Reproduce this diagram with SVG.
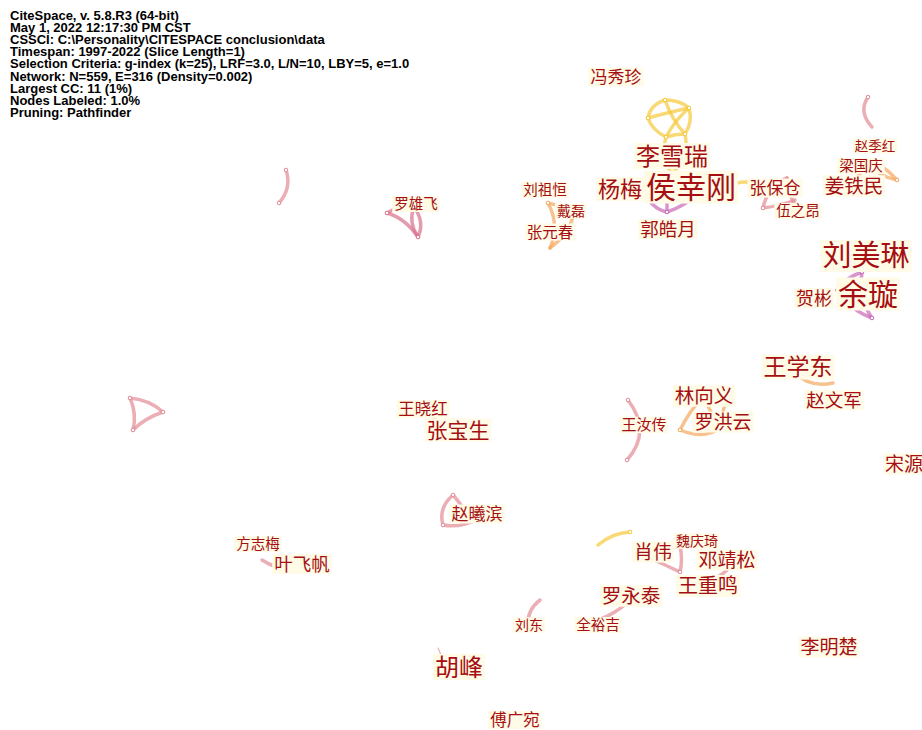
<svg xmlns="http://www.w3.org/2000/svg" width="922" height="730" viewBox="0 0 922 730">
<style>
.hdr{font-family:"Liberation Sans",Arial,sans-serif;font-weight:bold;font-size:13px;fill:#000}
.lb{font-family:"Noto Sans CJK SC","Noto Sans CJK TC",sans-serif;fill:#a50e12;text-anchor:middle}
.bg{fill:#fffbe6}
.e{fill:none;stroke-width:3.5;stroke-linecap:round;stroke-opacity:0.7}
.y{stroke:#f6c93a}
.o{stroke:#f3a860}
.p{stroke:#e38c96}
.m{stroke:#c968b6}
.r{stroke:#d9708c}
</style>
<rect width="922" height="730" fill="#fff"/>
<g id="header">
<text class="hdr" x="10" y="19.5">CiteSpace, v. 5.8.R3 (64-bit)</text>
<text class="hdr" x="10" y="31.7">May 1, 2022 12:17:30 PM CST</text>
<text class="hdr" x="10" y="43.9">CSSCI: C:\Personality\CITESPACE conclusion\data</text>
<text class="hdr" x="10" y="56.1">Timespan: 1997-2022 (Slice Length=1)</text>
<text class="hdr" x="10" y="68.3">Selection Criteria: g-index (k=25), LRF=3.0, L/N=10, LBY=5, e=1.0</text>
<text class="hdr" x="10" y="80.5">Network: N=559, E=316 (Density=0.002)</text>
<text class="hdr" x="10" y="92.7">Largest CC: 11 (1%)</text>
<text class="hdr" x="10" y="104.9">Nodes Labeled: 1.0%</text>
<text class="hdr" x="10" y="117.1">Pruning: Pathfinder</text>
</g>
<g id="connectors">
<path class="e y" d="M665 100 Q650 105 648 118"/>
<path class="e y" d="M665 100 Q680 100 689 108"/>
<path class="e y" d="M648 118 Q652 130 666 137"/>
<path class="e y" d="M648 118 Q670 112 689 108"/>
<path class="e y" d="M665 100 Q672 120 685 134"/>
<path class="e y" d="M689 108 Q675 120 666 137"/>
<path class="e y" d="M689 108 Q693 122 685 134"/>
<path class="e y" d="M666 137 Q675 134 685 134"/>
<path class="e y" d="M666 137 Q660 160 672 173"/>
<path class="e y" d="M685 134 Q690 158 672 173"/>
<path class="e m" d="M672 176 Q655 180 645 191"/>
<path class="e m" d="M672 176 Q690 182 697 194"/>
<path class="e m" d="M645 191 Q650 208 667 212"/>
<path class="e m" d="M697 194 Q685 206 667 212"/>
<path class="e m" d="M645 191 Q670 190 697 194"/>
<path class="e m" d="M672 176 Q666 195 667 212"/>
<path class="e y" d="M737 183 Q745 181 753 183"/>
<path class="e p" d="M763 208 Q768 185 787 178"/>
<path class="e p" d="M787 178 Q788 200 802 212"/>
<path class="e p" d="M763 208 Q780 206 795 200"/>
<path class="e p" d="M868 97 Q858 112 872 127"/>
<path class="e o" d="M855 180 Q870 160 880 165"/>
<path class="e o" d="M880 165 Q890 172 897 180"/>
<path class="e o" d="M870 165 Q878 176 897 180"/>
<path class="e m" d="M862 272 Q845 278 837 290"/>
<path class="e m" d="M837 290 Q850 310 872 318"/>
<path class="e m" d="M862 272 Q858 298 872 318"/>
<path class="e p" d="M286 170 Q292 188 279 203"/>
<path class="e r" d="M387 213 Q405 218 418 237"/>
<path class="e r" d="M387 213 Q400 205 414 207"/>
<path class="e r" d="M414 207 Q425 222 418 237"/>
<path class="e r" d="M414 207 Q408 222 418 237"/>
<path class="e o" d="M548 203 Q560 225 550 248"/>
<path class="e o" d="M548 203 Q562 205 573 217"/>
<path class="e o" d="M573 217 Q568 235 550 248"/>
<path class="e o" d="M795 373 Q810 388 833 383"/>
<path class="e o" d="M680 430 Q690 410 703 397"/>
<path class="e o" d="M680 430 Q705 440 720 428"/>
<path class="e o" d="M720 428 Q722 405 732 393"/>
<path class="e o" d="M703 397 Q710 410 720 428"/>
<path class="e o" d="M703 397 Q718 390 732 393"/>
<path class="e p" d="M628 400 Q652 432 627 460"/>
<path class="e p" d="M130 398 Q150 400 163 412"/>
<path class="e p" d="M163 412 Q145 418 133 430"/>
<path class="e p" d="M130 398 Q137 414 133 430"/>
<path class="e o" d="M433 416 Q440 430 453 438"/>
<path class="e p" d="M453 495 Q438 508 443 525"/>
<path class="e p" d="M443 525 Q460 528 476 520"/>
<path class="e p" d="M453 495 Q462 505 466 514"/>
<path class="e p" d="M262 560 Q280 572 302 568"/>
<path class="e y" d="M598 545 Q612 533 630 532"/>
<path class="e p" d="M650 558 Q665 550 680 545"/>
<path class="e p" d="M680 545 Q683 560 680 572"/>
<path class="e p" d="M650 558 Q665 565 680 572"/>
<path class="e p" d="M707 582 Q720 577 727 570"/>
<path class="e p" d="M630 600 Q610 620 578 625"/>
<path class="e p" d="M540 600 Q527 610 528 625"/>
<path class="e p" d="M438 648 L442 657" style="stroke-width:1.2"/>
</g>
<g id="node-dots" fill="#fff" stroke-width="1">
<circle cx="665" cy="100" r="1.8" stroke="#f6c93a"/>
<circle cx="689" cy="108" r="1.8" stroke="#f6c93a"/>
<circle cx="648" cy="118" r="1.8" stroke="#f6c93a"/>
<circle cx="666" cy="137" r="1.8" stroke="#f6c93a"/>
<circle cx="685" cy="134" r="1.8" stroke="#f6c93a"/>
<circle cx="645" cy="191" r="1.8" stroke="#c968b6"/>
<circle cx="667" cy="212" r="1.8" stroke="#c968b6"/>
<circle cx="868" cy="97" r="1.8" stroke="#e38c96"/>
<circle cx="897" cy="180" r="1.8" stroke="#f3a860"/>
<circle cx="763" cy="208" r="1.8" stroke="#e38c96"/>
<circle cx="862" cy="272" r="1.8" stroke="#c968b6"/>
<circle cx="872" cy="318" r="1.8" stroke="#c968b6"/>
<circle cx="286" cy="170" r="1.8" stroke="#e38c96"/>
<circle cx="279" cy="203" r="1.8" stroke="#e38c96"/>
<circle cx="387" cy="213" r="1.8" stroke="#d9708c"/>
<circle cx="418" cy="237" r="1.8" stroke="#d9708c"/>
<circle cx="548" cy="203" r="1.8" stroke="#f3a860"/>
<circle cx="680" cy="430" r="1.8" stroke="#f3a860"/>
<circle cx="628" cy="400" r="1.8" stroke="#e38c96"/>
<circle cx="627" cy="460" r="1.8" stroke="#e38c96"/>
<circle cx="130" cy="398" r="1.8" stroke="#e38c96"/>
<circle cx="163" cy="412" r="1.8" stroke="#e38c96"/>
<circle cx="133" cy="430" r="1.8" stroke="#e38c96"/>
<circle cx="453" cy="495" r="1.8" stroke="#e38c96"/>
<circle cx="443" cy="525" r="1.8" stroke="#e38c96"/>
<circle cx="630" cy="532" r="1.8" stroke="#f6c93a"/>
<circle cx="680" cy="572" r="1.8" stroke="#e38c96"/>
</g>
<g id="n-fengxiuzhen"><rect class="bg" x="588.5" y="67.5" width="55" height="19"/><text class="lb" x="616" y="83.1" font-size="17">冯秀珍</text></g>
<g id="n-lixuerui"><rect class="bg" x="634" y="143" width="76" height="26"/><text class="lb" x="672" y="164.6" font-size="24">李雪瑞</text></g>
<g id="n-yangmei"><rect class="bg" x="596" y="177" width="48" height="24"/><text class="lb" x="620" y="196.9" font-size="22">杨梅</text></g>
<g id="n-houxinggang"><rect class="bg" x="644" y="170.5" width="94" height="33"/><text class="lb" x="691" y="197.8" font-size="30">侯幸刚</text></g>
<g id="n-guohaoyue"><rect class="bg" x="638.25" y="219" width="59.5" height="20"/><text class="lb" x="668" y="235.7" font-size="18.5">郭皓月</text></g>
<g id="n-zhangbaocang"><rect class="bg" x="747.5" y="178.5" width="55" height="19"/><text class="lb" x="775" y="194.1" font-size="17">张保仓</text></g>
<g id="n-wuzhiang"><rect class="bg" x="774.25" y="203" width="47.5" height="16"/><text class="lb" x="798" y="216.2" font-size="14.5">伍之昂</text></g>
<g id="n-jiangtiemin"><rect class="bg" x="822.75" y="175.25" width="62.5" height="21.5"/><text class="lb" x="854" y="193" font-size="19.5">姜铁民</text></g>
<g id="n-liangguoqing"><rect class="bg" x="837.25" y="158" width="47.5" height="16"/><text class="lb" x="861" y="171.2" font-size="14.5">梁国庆</text></g>
<g id="n-zhaojihong"><rect class="bg" x="852.75" y="138.5" width="44.5" height="15"/><text class="lb" x="875" y="150.9" font-size="13.5">赵季红</text></g>
<g id="n-liumeilin"><rect class="bg" x="820.5" y="240" width="91" height="32"/><text class="lb" x="866" y="266.4" font-size="29">刘美琳</text></g>
<g id="n-yuxuan"><rect class="bg" x="836" y="277.5" width="64" height="33"/><text class="lb" x="868" y="304.8" font-size="30">余璇</text></g>
<g id="n-hebin"><rect class="bg" x="794" y="288" width="40" height="20"/><text class="lb" x="814" y="304.5" font-size="18">贺彬</text></g>
<g id="n-liuzuheng"><rect class="bg" x="521.25" y="182" width="47.5" height="16"/><text class="lb" x="545" y="195.2" font-size="14.5">刘祖恒</text></g>
<g id="n-dailei"><rect class="bg" x="555" y="203.3" width="32" height="15.4"/><text class="lb" x="571" y="216" font-size="14">戴磊</text></g>
<g id="n-zhangyuanchun"><rect class="bg" x="524.75" y="223.5" width="50.5" height="17"/><text class="lb" x="550" y="237.6" font-size="15.5">张元春</text></g>
<g id="n-luoxiongfei"><rect class="bg" x="392.25" y="196" width="47.5" height="16"/><text class="lb" x="416" y="209.2" font-size="14.5">罗雄飞</text></g>
<g id="n-wangxuedong"><rect class="bg" x="761.5" y="354.5" width="73" height="25"/><text class="lb" x="798" y="375.3" font-size="23">王学东</text></g>
<g id="n-linxiangyi"><rect class="bg" x="672.75" y="385.25" width="62.5" height="21.5"/><text class="lb" x="704" y="403" font-size="19.5">林向义</text></g>
<g id="n-luohongyun"><rect class="bg" x="692.5" y="411.5" width="61" height="21"/><text class="lb" x="723" y="428.8" font-size="19">罗洪云</text></g>
<g id="n-zhaowenjun"><rect class="bg" x="804.25" y="390" width="59.5" height="20"/><text class="lb" x="834" y="406.7" font-size="18.5">赵文军</text></g>
<g id="n-wangruchuan"><rect class="bg" x="619.5" y="416.75" width="49" height="16.5"/><text class="lb" x="644" y="430.4" font-size="15">王汝传</text></g>
<g id="n-songyuan"><rect class="bg" x="883" y="453.5" width="42" height="21"/><text class="lb" x="904" y="470.8" font-size="19">宋源</text></g>
<g id="n-wangxiaohong"><rect class="bg" x="396.25" y="400" width="53.5" height="18"/><text class="lb" x="423" y="414.9" font-size="16.5">王晓红</text></g>
<g id="n-zhangbaosheng"><rect class="bg" x="424.5" y="418.5" width="67" height="23"/><text class="lb" x="458" y="437.6" font-size="21">张宝生</text></g>
<g id="n-zhaoxibin"><rect class="bg" x="449.5" y="504.5" width="55" height="19"/><text class="lb" x="477" y="520.1" font-size="17">赵曦滨</text></g>
<g id="n-fangzhimei"><rect class="bg" x="234.25" y="536" width="47.5" height="16"/><text class="lb" x="258" y="549.2" font-size="14.5">方志梅</text></g>
<g id="n-yefeifan"><rect class="bg" x="272.25" y="554" width="59.5" height="20"/><text class="lb" x="302" y="570.7" font-size="18.5">叶飞帆</text></g>
<g id="n-xiaowei"><rect class="bg" x="632" y="541.5" width="42" height="21"/><text class="lb" x="653" y="558.8" font-size="19">肖伟</text></g>
<g id="n-weiqingqi"><rect class="bg" x="674" y="533.3" width="46" height="15.4"/><text class="lb" x="697" y="546" font-size="14">魏庆琦</text></g>
<g id="n-dengjingsong"><rect class="bg" x="696.5" y="549.5" width="61" height="21"/><text class="lb" x="727" y="566.8" font-size="19">邓靖松</text></g>
<g id="n-wangzhongming"><rect class="bg" x="676" y="575" width="64" height="22"/><text class="lb" x="708" y="593.2" font-size="20">王重鸣</text></g>
<g id="n-luoyongtai"><rect class="bg" x="599.75" y="585.25" width="62.5" height="21.5"/><text class="lb" x="631" y="603" font-size="19.5">罗永泰</text></g>
<g id="n-quanyuji"><rect class="bg" x="574.25" y="617" width="47.5" height="16"/><text class="lb" x="598" y="630.2" font-size="14.5">全裕吉</text></g>
<g id="n-liudong"><rect class="bg" x="513" y="617.3" width="32" height="15.4"/><text class="lb" x="529" y="630" font-size="14">刘东</text></g>
<g id="n-hufeng"><rect class="bg" x="433" y="654" width="52" height="26"/><text class="lb" x="459" y="675.6" font-size="24">胡峰</text></g>
<g id="n-limingchu"><rect class="bg" x="798.5" y="636.5" width="61" height="21"/><text class="lb" x="829" y="653.8" font-size="19">李明楚</text></g>
<g id="n-fuguangwan"><rect class="bg" x="488.25" y="711" width="53.5" height="18"/><text class="lb" x="515" y="725.5" font-size="16.5">傅广宛</text></g>
</svg>
